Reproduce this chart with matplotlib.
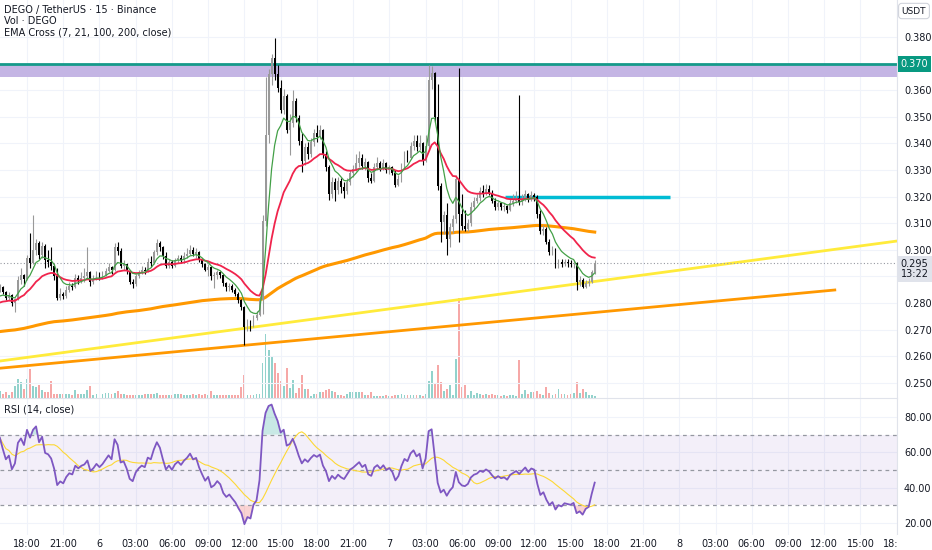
import numpy as np
import pandas as pd
import matplotlib
matplotlib.use("Agg")
import matplotlib.pyplot as plt
from matplotlib.transforms import blended_transform_factory

# 15-minute candles, index 0 = 18:00 on day 5, prices in thousandths of USDT
first_idx = -9
first_open = 285.0

closes = [286.0, 284.0, 282.0, 283.0, 280.0, 281.5, 288.5, 290.5, 289.0,
          297.0, 295.0, 300.0, 302.5, 298.0, 301.5, 296.0, 295.5, 294.0, 290.0,
          282.0, 283.5, 282.5, 285.0, 286.5, 286.0, 289.5, 288.5, 289.5, 290.0,
          291.5, 288.0, 289.0, 290.5, 289.5, 290.5, 292.0, 293.5, 292.5, 301.0,
          299.5, 294.0, 294.5, 292.0, 288.0, 287.0, 290.0, 291.5, 292.5, 292.0,
          295.5, 295.0, 299.0, 302.5, 301.0, 297.5, 294.0, 295.5, 294.0, 296.0,
          297.0, 296.0, 297.5, 298.5, 300.0, 298.5, 299.0, 296.5, 294.5, 292.5,
          293.5, 290.0, 290.5, 291.5, 290.5, 287.5, 286.0, 286.5, 285.0, 283.5,
          281.0, 278.5, 271.0, 272.5, 271.5, 274.5, 275.5, 281.0, 311.0, 343.0,
          366.0, 372.0, 366.0, 361.0, 352.5, 358.0, 345.0, 347.5, 356.0, 349.5,
          341.0, 333.5, 338.5, 336.0, 340.5, 344.0, 342.5, 345.0, 336.0, 331.0,
          321.0, 325.5, 322.5, 326.0, 323.5, 322.0, 325.5, 329.0, 330.5, 332.5,
          334.5, 331.5, 333.0, 327.0, 326.0, 331.0, 332.5, 330.5, 332.5, 330.0,
          331.0, 329.0, 324.5, 326.5, 331.5, 335.5, 334.5, 339.0, 341.0, 338.5,
          340.0, 333.5, 339.0, 364.0, 366.5, 350.0, 324.0, 310.5, 313.0, 304.0,
          308.5, 311.5, 326.5, 313.5, 309.0, 308.0, 310.0, 316.0, 318.5, 319.5,
          322.0, 321.0, 323.0, 321.5, 318.5, 316.0, 317.5, 316.0, 316.5, 315.0,
          317.5, 318.5, 319.5, 318.0, 319.5, 321.0, 319.0, 320.5, 320.0, 313.5,
          307.0, 308.0, 303.0, 299.0, 300.0, 294.0, 295.5, 294.5, 295.5, 295.0,
          294.5, 295.0, 288.0, 288.5, 286.0, 287.5, 288.0, 291.5, 295.0]

highs = [287.0, 286.5, 284.5, 284.0, 283.5, 282.0, 290.0, 293.0, 291.0,
         298.0, 306.5, 313.0, 304.0, 303.5, 303.0, 302.0, 300.0, 301.0, 294.5,
         293.0, 285.5, 284.0, 286.5, 288.0, 287.5, 291.0, 290.5, 291.5, 293.0,
         301.0, 292.0, 290.5, 292.0, 291.5, 292.0, 293.0, 295.0, 294.0, 302.5,
         303.0, 300.5, 296.0, 294.5, 292.5, 289.0, 291.0, 292.5, 294.0, 293.5,
         297.0, 297.5, 300.0, 304.0, 303.5, 301.5, 299.0, 296.5, 296.0, 297.0,
         298.0, 298.0, 299.0, 300.5, 301.8, 301.0, 300.5, 299.5, 297.0, 295.0,
         294.5, 294.0, 291.5, 292.5, 292.0, 291.0, 288.0, 287.5, 287.0, 285.5,
         284.0, 281.5, 279.0, 274.0, 273.5, 275.5, 277.0, 282.5, 313.0, 365.0,
         368.0, 373.5, 379.6, 369.5, 364.0, 360.5, 358.5, 351.0, 360.0, 357.0,
         350.5, 344.0, 340.0, 340.5, 342.0, 345.5, 347.0, 347.0, 345.5, 337.0,
         332.0, 327.5, 327.0, 327.5, 327.0, 325.5, 327.0, 330.0, 332.0, 336.0,
         337.0, 336.0, 334.5, 333.5, 329.0, 332.5, 335.0, 333.5, 334.0, 333.0,
         332.0, 331.5, 330.0, 328.0, 332.5, 337.0, 337.5, 340.5, 343.2, 343.0,
         343.0, 340.5, 343.0, 369.5, 369.0, 367.0, 362.5, 325.0, 314.5, 317.5,
         310.0, 313.0, 328.0, 368.3, 321.0, 315.0, 311.5, 318.0, 320.0, 321.0,
         323.5, 324.5, 324.7, 324.5, 322.5, 319.5, 318.5, 318.0, 317.5, 317.0,
         319.0, 321.0, 322.0, 358.2, 321.0, 322.5, 321.5, 322.0, 321.5, 320.5,
         315.0, 309.5, 308.5, 304.0, 301.5, 300.5, 296.5, 296.5, 296.5, 296.5,
         296.0, 296.0, 295.5, 290.0, 289.5, 288.5, 289.5, 292.5, 296.0]

lows = [284.0, 283.5, 281.0, 281.0, 279.0, 276.5, 281.0, 287.0, 286.5,
        288.5, 293.0, 294.5, 298.0, 296.5, 297.0, 293.0, 293.5, 292.5, 288.5,
        281.0, 281.0, 281.5, 282.0, 284.0, 285.0, 285.5, 287.0, 287.5, 288.0,
        289.0, 286.5, 287.0, 288.5, 288.5, 289.0, 290.0, 291.5, 291.0, 292.0,
        298.0, 293.0, 292.5, 291.0, 287.0, 285.5, 286.5, 289.5, 291.0, 291.0,
        291.5, 293.5, 294.5, 298.0, 299.5, 296.5, 293.0, 293.0, 293.0, 293.5,
        295.0, 295.0, 295.5, 297.0, 298.0, 297.5, 297.0, 295.5, 293.5, 292.0,
        290.0, 288.5, 285.5, 289.0, 289.5, 286.5, 284.5, 284.5, 284.0, 282.5,
        280.0, 277.5, 264.2, 269.5, 269.5, 271.0, 273.5, 275.0, 276.0, 309.0,
        340.0, 362.0, 364.0, 359.5, 351.5, 351.0, 344.0, 335.6, 346.0, 348.0,
        339.5, 329.3, 332.0, 334.0, 335.0, 339.0, 340.5, 341.5, 334.5, 329.5,
        318.7, 319.5, 318.5, 321.0, 321.5, 319.5, 321.0, 324.5, 327.5, 329.5,
        331.0, 330.5, 330.0, 325.5, 325.0, 325.5, 330.0, 329.5, 330.0, 329.0,
        328.5, 328.0, 323.5, 324.0, 325.5, 330.5, 333.0, 334.0, 337.5, 337.0,
        337.5, 332.0, 333.0, 338.0, 360.5, 348.0, 322.5, 302.9, 306.0, 298.0,
        301.0, 306.5, 310.0, 303.0, 307.5, 307.0, 307.0, 309.0, 315.0, 317.5,
        318.5, 320.0, 320.5, 320.5, 317.5, 315.0, 315.0, 315.0, 314.5, 314.0,
        314.5, 316.5, 317.5, 317.0, 317.0, 318.5, 318.0, 318.5, 318.5, 312.0,
        306.0, 305.5, 302.0, 298.0, 298.0, 293.0, 293.0, 293.5, 294.0, 293.5,
        293.5, 293.0, 285.0, 286.5, 285.5, 285.5, 286.5, 287.5, 291.0]

volumes = [7, 4, 6, 3, 6, 12, 19, 16, 9,
           19, 29, 12, 11, 13, 8, 6, 6, 17, 4,
           4, 4, 4, 4, 4, 3, 8, 4, 4, 4,
           8, 12, 3, 4, 4, 4, 5, 5, 4, 5,
           7, 4, 4, 3, 3, 3, 3, 3, 3, 4,
           4, 4, 4, 5, 3, 3, 3, 3, 3, 4,
           4, 4, 3, 3, 3, 4, 3, 4, 3, 4,
           3, 7, 3, 3, 3, 3, 3, 3, 3, 3,
           3, 11, 23, 3, 3, 3, 4, 4, 35, 63,
           48, 42, 35, 25, 17, 12, 30, 10, 18, 5,
           10, 23, 9, 9, 2, 4, 4, 6, 6, 8,
           9, 7, 6, 3, 3, 2, 4, 6, 6, 6,
           6, 6, 3, 3, 6, 2, 2, 2, 2, 3,
           2, 2, 3, 3, 4, 3, 3, 3, 3, 3,
           3, 2, 4, 17, 27, 14, 33, 16, 7, 9,
           13, 3, 39, 99, 11, 13, 3, 7, 3, 5,
           4, 3, 4, 3, 4, 3, 3, 2, 3, 2,
           3, 3, 2, 38, 4, 8, 4, 6, 6, 7,
           4, 3, 11, 5, 3, 4, 9, 4, 4, 3,
           4, 5, 16, 5, 9, 6, 3, 3, 2]

# indicator starting values
ema_seeds = {7: 281.5, 21: 279.6, 200: 269.1}
rsi_seed_gain, rsi_seed_loss = 1.0, 0.5

tick_pos = list(range(0, 289, 12))
tick_labels = ["18:00", "21:00", "6", "03:00", "06:00", "09:00", "12:00", "15:00",
               "18:00", "21:00", "7", "03:00", "06:00", "09:00", "12:00", "15:00",
               "18:00", "21:00", "8", "03:00", "06:00", "09:00", "12:00", "15:00", "18:00"]
price_ticks = [0.25, 0.26, 0.27, 0.28, 0.29, 0.30, 0.31, 0.32, 0.33, 0.34, 0.35,
               0.36, 0.37, 0.38]
# labels covered by the price tags on the scale
hidden_ticks = [0.29, 0.37]

# drawings
yellow_line_x, yellow_line_y = [-8.94, 288.1], [0.2582, 0.3033]
orange_line_x, orange_line_y = [-8.94, 267.5], [0.2555, 0.2849]
zone_low, zone_high = 0.365, 0.370
cyan_level, cyan_x = 0.320, [158.3, 212.9]


def ema(vals, n, seed):
    a = 2 / (n + 1)
    e = seed
    out = []
    for v in vals:
        e = e + a * (v - e)
        out.append(e)
    return np.array(out)


c = np.array(closes) / 1000
h = np.array(highs) / 1000
l = np.array(lows) / 1000
o = np.concatenate([[first_open / 1000], c[:-1]])
idx = np.arange(first_idx, first_idx + len(c))
vol = np.array(volumes, dtype=float)
up = c >= o

# rsi (Wilder)
diff = np.diff(np.concatenate([[first_open], closes]))
g, lo = rsi_seed_gain, rsi_seed_loss
rsi = []
for d in diff:
    g = (g * 13 + max(d, 0)) / 14
    lo = (lo * 13 + max(-d, 0)) / 14
    rsi.append(100 - 100 / (1 + g / lo))
rsi = np.array(rsi)
rsi_ma = pd.Series(rsi).rolling(14, min_periods=1).mean().values

W, H = 932, 550
fig = plt.figure(figsize=(W / 100, H / 100), dpi=100)
rect_price = [0, 1 - 398 / H, 897 / W, 398 / H]
axv = fig.add_axes(rect_price)
ax = fig.add_axes(rect_price)
axr = fig.add_axes([0, 15 / H, 897 / W, 136 / H])
axv.set_zorder(0)
ax.set_zorder(1)
ax.patch.set_alpha(0)

xlim = (-8.94, 288.1)
grid_c = "#f0f3fa"
txt_c = "#131722"

# volume
vcol = np.where(up, "#26a69a", "#ef5350")
axv.bar(idx, vol, width=0.62, color=vcol, alpha=0.5, lw=0)
axv.set_xlim(*xlim)
axv.set_ylim(0, vol.max() * 3.98)
axv.axis("off")

# price panel
ax.set_xlim(*xlim)
ax.set_ylim(0.2443, 0.3939)
for v in tick_pos:
    ax.axvline(v, color=grid_c, lw=0.8, zorder=0)
for p in price_ticks:
    ax.axhline(p, color=grid_c, lw=0.8, zorder=0)

ax.axhspan(zone_low, zone_high, color="#c4b5e4", lw=0, zorder=1)
ax.axhline(zone_high, color="#159a8a", lw=2, zorder=2)
ax.hlines(cyan_level, cyan_x[0], cyan_x[1], color="#00bcd4", lw=2.5, zorder=2)
ax.plot(orange_line_x, orange_line_y, color="#ff9800", lw=2, zorder=2)
ax.plot(yellow_line_x, yellow_line_y, color="#ffeb3b", lw=2, zorder=2)

ax.plot(idx, ema(c, 200, ema_seeds[200] / 1000), color="#ff9800", lw=2.2, zorder=3)
ccol = np.where(up, "#999999", "#000000")
ax.vlines(idx, l, h, colors=ccol, lw=0.8, zorder=4)
ax.bar(idx, np.maximum(np.abs(c - o), 0.0002), bottom=np.minimum(o, c), width=0.62,
       color=ccol, lw=0, zorder=4)
ax.plot(idx, ema(c, 21, ema_seeds[21] / 1000), color="#f0244c", lw=1.3, zorder=5)
ax.plot(idx, ema(c, 7, ema_seeds[7] / 1000), color="#43a047", lw=0.9, zorder=5)
ax.axhline(c[-1], color="#9598a1", lw=0.8, ls=(0, (1, 2)), zorder=2)

ax.yaxis.tick_right()
ax.set_yticks(price_ticks)
ax.set_yticklabels(["" if any(abs(p - q) < 1e-9 for q in hidden_ticks) else f"{p:.3f}"
                    for p in price_ticks])
ax.set_xticks(tick_pos)
ax.tick_params(axis="x", length=0, labelbottom=False)
ax.tick_params(axis="y", length=0, pad=5, labelsize=7, labelcolor=txt_c)
for s in ["top", "left"]:
    ax.spines[s].set_visible(False)
ax.spines["right"].set_color("#e0e3eb")
ax.spines["bottom"].set_color("#e0e3eb")

tr = blended_transform_factory(ax.transAxes, ax.transData)
ax.text(1.004, zone_high, "0.370", transform=tr, ha="left", va="center", fontsize=7,
        color="white", clip_on=False, zorder=10,
        bbox=dict(boxstyle="square,pad=0.3", fc="#089981", ec="none"))
ax.text(1.004, c[-1] - 0.0022, f"{c[-1]:.3f}\n13:22", transform=tr, ha="left",
        va="center", fontsize=7, color=txt_c, clip_on=False, zorder=10, linespacing=1.1,
        bbox=dict(boxstyle="square,pad=0.3", fc="#e0e3eb", ec="none"))

# rsi panel
axr.set_xlim(*xlim)
axr.set_ylim(13.2, 90.2)
for v in tick_pos:
    axr.axvline(v, color=grid_c, lw=0.8, zorder=0)
for r in [20, 40, 60, 80]:
    axr.axhline(r, color=grid_c, lw=0.8, zorder=0)
axr.axhspan(30, 70, color="#7e57c2", alpha=0.09, lw=0)
for r in [30, 50, 70]:
    axr.axhline(r, color="#9598a1", lw=0.9, ls=(0, (3, 3)))
axr.fill_between(idx, rsi, 70, where=rsi > 70, color="#26a69a", alpha=0.25, lw=0,
                 interpolate=True)
axr.fill_between(idx, rsi, 30, where=rsi < 30, color="#ef5350", alpha=0.25, lw=0,
                 interpolate=True)
axr.plot(idx, rsi_ma, color="#fdd835", lw=0.8)
axr.plot(idx, rsi, color="#7e57c2", lw=1.3)
axr.yaxis.tick_right()
axr.set_yticks([20, 40, 60, 80])
axr.set_yticklabels(["20.00", "40.00", "60.00", "80.00"])
axr.set_xticks(tick_pos)
axr.set_xticklabels(tick_labels)
axr.tick_params(axis="x", length=0, pad=3, labelsize=7, labelcolor=txt_c)
axr.tick_params(axis="y", length=0, pad=5, labelsize=7, labelcolor=txt_c)
for s in ["top", "left", "bottom"]:
    axr.spines[s].set_visible(False)
axr.spines["right"].set_color("#e0e3eb")

# headers
fig.text(4 / W, 1 - 10 / H, "DEGO / TetherUS · 15 · Binance", fontsize=7, va="center",
         color=txt_c)
fig.text(4 / W, 1 - 21.5 / H, "Vol · DEGO", fontsize=7, va="center", color=txt_c)
fig.text(4 / W, 1 - 32.5 / H, "EMA Cross (7, 21, 100, 200, close)", fontsize=7,
         va="center", color=txt_c)
fig.text(4 / W, 1 - 409 / H, "RSI (14, close)", fontsize=7, va="center", color=txt_c)
fig.text(914 / W, 1 - 11 / H, "USDT", fontsize=6.5, ha="center", va="center", color=txt_c,
         bbox=dict(boxstyle="round,pad=0.35", fc="white", ec="#d1d4dc", lw=0.8))

# price scale hides the end of the last time label
fig.patches.append(plt.Rectangle((897 / W, 0), 35 / W, 15 / H, transform=fig.transFigure,
                                 fc="white", ec="none", zorder=5))

fig.savefig("out.png", dpi=100)
